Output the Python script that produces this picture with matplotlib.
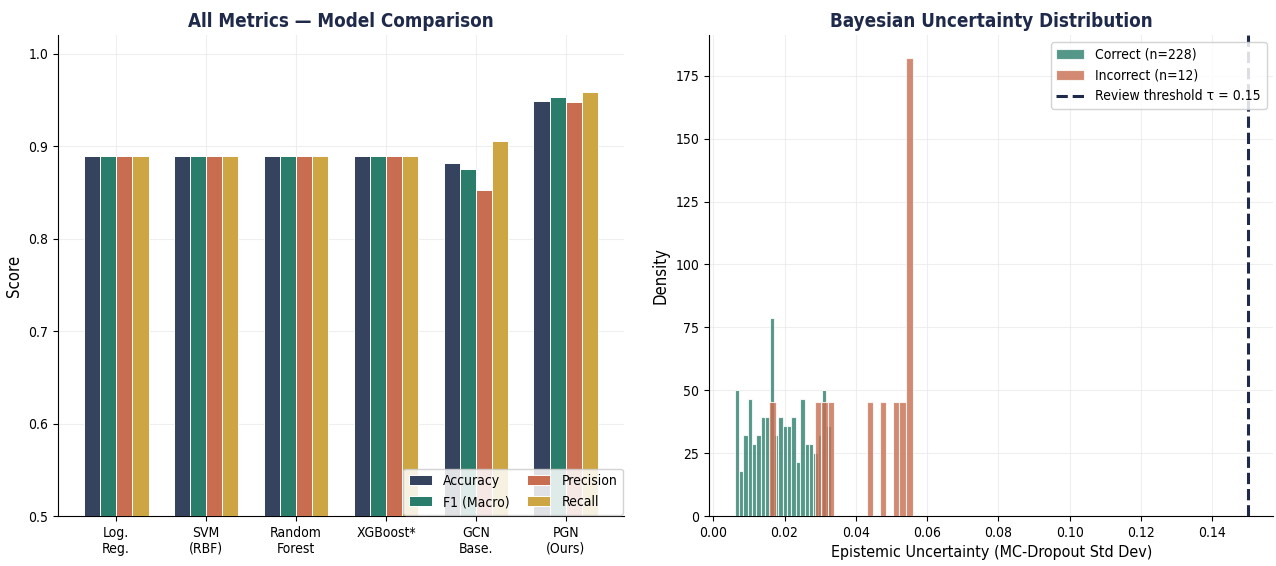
import numpy as np
import matplotlib
matplotlib.use("Agg")
import matplotlib.pyplot as plt

plt.rcParams['font.family'] = ['DejaVu Sans']
plt.rcParams['font.stretch'] = 'condensed'

# ---------------- data ----------------
models = ["Log.\nReg.", "SVM\n(RBF)", "Random\nForest", "XGBoost*", "GCN\nBase.", "PGN\n(Ours)"]
metric_names = ["Accuracy", "F1 (Macro)", "Precision", "Recall"]
accuracy = [0.889, 0.889, 0.889, 0.889, 0.882, 0.949]
f1_macro = [0.889, 0.889, 0.889, 0.889, 0.875, 0.953]
precision = [0.889, 0.889, 0.889, 0.889, 0.853, 0.948]
recall = [0.889, 0.889, 0.889, 0.889, 0.906, 0.959]

# histogram bin counts (22 bins over each group's data range)
correct_range = (0.00598, 0.03296)
correct_counts = [14, 5, 9, 13, 8, 9, 11, 11, 22, 9, 11, 10, 10, 11, 6, 13, 8, 8, 7, 9, 14, 10]
incorrect_range = (0.01563, 0.05591)
incorrect_counts = [1, 0, 0, 0, 0, 0, 0, 1, 1, 1, 0, 0, 0, 0, 0, 1, 0, 1, 0, 1, 1, 4]
threshold = 0.15

# ---------------- style ----------------
c_acc = "#36435e"
c_f1 = "#2a7d6b"
c_prec = "#c96d50"
c_rec = "#cda542"
title_color = "#1f2a4a"
grid_kw = dict(color="#ebebeb", linewidth=0.8, alpha=0.8)

fig = plt.figure(figsize=(12.76, 5.66), dpi=100)
ax1 = fig.add_axes([0.0455, 0.0883, 0.4435, 0.8497])
ax2 = fig.add_axes([0.5556, 0.0883, 0.4424, 0.8497])

# ---------------- left: grouped bars ----------------
x = np.arange(len(models))
w = 0.18
series = [accuracy, f1_macro, precision, recall]
colors = [c_acc, c_f1, c_prec, c_rec]
for i, (vals, col, name) in enumerate(zip(series, colors, metric_names)):
    ax1.bar(x + (i - 1.5) * w, vals, width=w, color=col, edgecolor="white",
            linewidth=0.7, label=name, zorder=3)
ax1.set_xticks(x)
ax1.set_xticklabels(models, fontsize=10)
ax1.set_ylim(0.5, 1.02)
ax1.set_yticks([0.5, 0.6, 0.7, 0.8, 0.9, 1.0])
ax1.tick_params(axis='y', labelsize=10)
ax1.set_ylabel("Score", fontsize=12)
ax1.set_title("All Metrics — Model Comparison", fontsize=13.5, fontweight="bold",
              color=title_color, pad=6)
ax1.grid(True, **grid_kw, zorder=0)
ax1.set_axisbelow(True)
ax1.legend(loc="lower right", ncol=2, fontsize=10, framealpha=0.85,
           borderpad=0.4, handlelength=1.7, columnspacing=1.2, borderaxespad=0.1)
for s in ["top", "right"]:
    ax1.spines[s].set_visible(False)

# ---------------- right: uncertainty histogram ----------------
nb = len(correct_counts)
ce = np.linspace(correct_range[0], correct_range[1], nb + 1)
ie = np.linspace(incorrect_range[0], incorrect_range[1], len(incorrect_counts) + 1)
cc = (ce[:-1] + ce[1:]) / 2
ic = (ie[:-1] + ie[1:]) / 2
ax2.hist(cc, bins=ce, weights=correct_counts, density=True, color=c_f1, alpha=0.8,
         edgecolor="white", linewidth=0.8, label=f"Correct (n={sum(correct_counts)})", zorder=3)
ax2.hist(ic, bins=ie, weights=incorrect_counts, density=True, color=c_prec, alpha=0.8,
         edgecolor="white", linewidth=0.8, label=f"Incorrect (n={sum(incorrect_counts)})", zorder=3)
ax2.axvline(threshold, color=title_color, linestyle="--", linewidth=2.2,
            label=f"Review threshold τ = {threshold}", zorder=4)
ax2.set_xticks(np.arange(0, 0.141, 0.02))
ax2.xaxis.set_major_formatter(matplotlib.ticker.FormatStrFormatter('%.2f'))
ax2.set_yticks([0, 25, 50, 75, 100, 125, 150, 175])
ax2.tick_params(labelsize=10)
ax2.set_xlabel("Epistemic Uncertainty (MC-Dropout Std Dev)", fontsize=11.5)
ax2.set_ylabel("Density", fontsize=12)
ax2.set_title("Bayesian Uncertainty Distribution", fontsize=13.5, fontweight="bold",
              color=title_color, pad=6)
ax2.grid(True, **grid_kw, zorder=0)
ax2.set_axisbelow(True)
ax2.legend(loc="upper right", fontsize=10, framealpha=0.85, borderpad=0.4)
for s in ["top", "right"]:
    ax2.spines[s].set_visible(False)

fig.savefig("out.png", dpi=100)
